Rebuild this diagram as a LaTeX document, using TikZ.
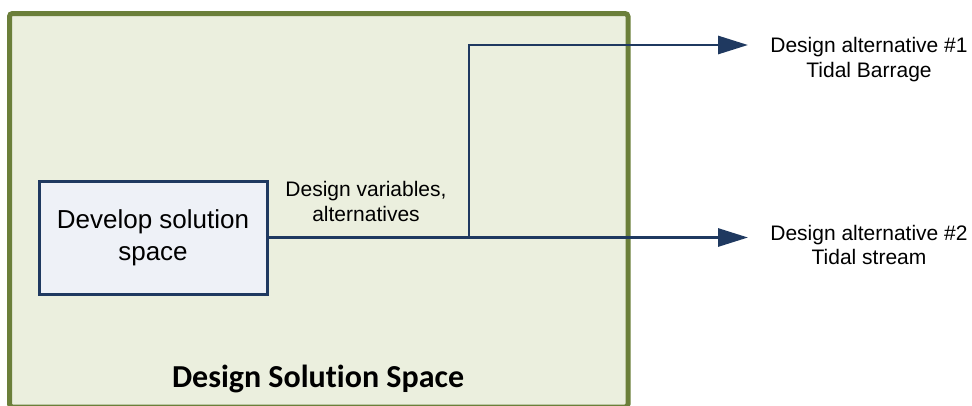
\documentclass[tikz,border=0pt]{standalone}
\usepackage{fontspec}
\setmainfont{Liberation Sans}
\newfontfamily\calibrifont[Ligatures=NoCommon]{Carlito}
\usetikzlibrary{arrows.meta}
\definecolor{framegreen}{RGB}{107,127,58}
\definecolor{framefill}{RGB}{235,239,222}
\definecolor{boxfill}{RGB}{238,241,247}
\definecolor{navy}{RGB}{31,57,96}
\begin{document}
\begin{tikzpicture}[x=1pt,y=-1pt,
  conn/.style={draw=navy,line width=2.9pt},
  arr/.style={conn,-{Triangle[length=30pt,width=18pt]}},
  lbl/.style={font=\fontsize{21}{24.5}\selectfont,align=center,inner sep=0pt},
  devbox/.style={draw=navy,fill=boxfill,line width=3pt,align=center,
    font=\fontsize{26}{31.7}\selectfont,minimum width=228pt,minimum height=113pt,inner sep=0pt},
  framelabel/.style={font=\calibrifont\bfseries\fontsize{32}{38}\selectfont,inner sep=0pt}]
\useasboundingbox (0,0) rectangle (972,405);
\begin{scope}
\clip (0,0) rectangle (972,405);
\draw[framegreen, fill=framefill, line width=5pt, rounded corners=3pt] (9.5,13.5) rectangle (628,407);
\end{scope}
\node[framelabel,anchor=base] (dss) at (318,387.3) {Design Solution Space};
\node[devbox] (dev) at (153,237.5) {Develop solution\\space};
\coordinate (j) at (469,237.5);
\coordinate (t) at (469,45);
\coordinate (a1) at (748,45);
\coordinate (a2) at (748,237.5);
\draw[arr] (dev.east) -- (a2);
\draw[arr] (j) -- (t) -- (a1);
\node[lbl] (dv) at (366,201.5) {Design variables,\\alternatives};
\node[lbl] (alt1) at (869,59.4) {Design alternative \#1\\Tidal Barrage};
\node[lbl] (alt2) at (869,245.2) {Design alternative \#2\\Tidal stream};
\end{tikzpicture}
\end{document}
